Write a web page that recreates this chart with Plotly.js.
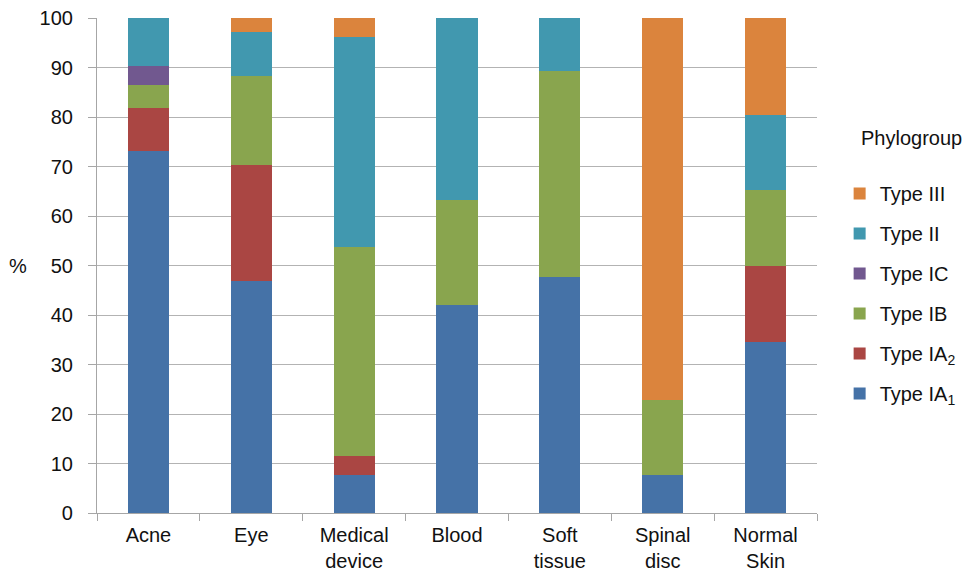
<!DOCTYPE html>
<html>
<head>
<meta charset="utf-8">
<script src="https://cdn.plot.ly/plotly-3.0.1.min.js"></script>
<style>html,body{margin:0;padding:0;background:#fff;}#chart{width:972px;height:571px;}</style>
</head>
<body>
<div id="chart"></div>
<script>
const categories = ["Acne", "Eye", "Medical<br>device", "Blood", "Soft<br>tissue", "Spinal<br>disc", "Normal<br>Skin"];
const typeIA1 = [73.1, 46.9, 7.7, 42.0, 47.7, 7.7, 34.6];
const typeIA2 = [8.7, 23.5, 3.9, 0, 0, 0, 15.3];
const typeIB  = [4.7, 17.8, 42.1, 21.2, 41.5, 15.2, 15.4];
const typeIC  = [3.9, 0, 0, 0, 0, 0, 0];
const typeII  = [9.6, 8.9, 42.5, 36.8, 10.8, 0, 15.2];
const typeIII = [0, 2.9, 3.8, 0, 0, 77.1, 19.5];
const seriesNames = ["Type IA<sub>1</sub>", "Type IA<sub>2</sub>", "Type IB", "Type IC", "Type II", "Type III"];
const seriesColors = ["#4572A7", "#AA4643", "#89A54E", "#71588F", "#4198AF", "#DB843D"];
const seriesValues = [typeIA1, typeIA2, typeIB, typeIC, typeII, typeIII];

const traces = seriesValues.map((vals, i) => ({
  type: "bar",
  name: seriesNames[i],
  x: categories,
  y: vals,
  marker: {color: seriesColors[i], line: {width: 0}},
  legendgroup: "g" + i,
  legendrank: 1000 - i,
  hoverinfo: "x+y+name"
}));

const font = {family: "Liberation Sans, Arial, sans-serif", size: 20, color: "#111"};

const layout = {
  width: 972, height: 571,
  margin: {l: 97, r: 154, t: 18, b: 58},
  paper_bgcolor: "#fff", plot_bgcolor: "#fff",
  barmode: "stack",
  bargap: 0.6,
  font: font,
  showlegend: true,
  legend: {
    x: 1.03, xanchor: "left", y: 0.685, yanchor: "top",
    traceorder: "grouped",
    tracegroupgap: 11,
    font: font,
    itemclick: false
  },
  xaxis: {
    type: "category",
    showgrid: false,
    showline: true, linecolor: "#a6a6a6", linewidth: 1,
    ticks: "outside", tickson: "boundaries", ticklen: 7, tickcolor: "#a6a6a6",
    ticklabelstandoff: 4,
    tickfont: font,
    fixedrange: true
  },
  yaxis: {
    range: [0, 100], dtick: 10,
    showgrid: true, gridcolor: "#b3b3b3", gridwidth: 1,
    showline: true, linecolor: "#a6a6a6", linewidth: 1,
    ticks: "outside", ticklen: 8, tickcolor: "#a6a6a6",
    ticksuffix: "\u00a0\u00a0",
    tickfont: font,
    zeroline: false,
    fixedrange: true
  },
  annotations: [
    {text: "%", xref: "paper", yref: "paper", x: -0.11, y: 0.5, xanchor: "center", yanchor: "middle", showarrow: false, font: font},
    {text: "Phylogroup", xref: "paper", yref: "paper", x: 1.058, y: 0.757, xanchor: "left", yanchor: "middle", showarrow: false, font: font}
  ]
};

Plotly.newPlot("chart", traces, layout, {displayModeBar: false, staticPlot: true});
</script>
</body>
</html>
